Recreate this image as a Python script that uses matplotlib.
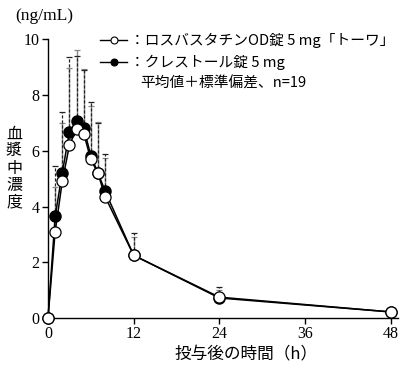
import matplotlib
matplotlib.use("Agg")
import matplotlib.pyplot as plt
from matplotlib.lines import Line2D
import numpy as np

# ---- data ----
time_h = [0, 1, 2, 3, 4, 5, 6, 7, 8, 12, 24, 48]
open_mean = [0, 3.10, 4.90, 6.20, 6.80, 6.62, 5.69, 5.19, 4.35, 2.25, 0.75, 0.22]
open_upper = [0, 4.71, 7.00, 8.96, 9.62, 8.92, 7.60, 7.02, 5.75, 2.90, 1.00, 0.30]
filled_mean = [0, 3.65, 5.21, 6.68, 7.08, 6.83, 5.82, 5.21, 4.55, 2.25, 0.72, 0.22]
filled_upper = [0, 5.46, 7.40, 9.35, 9.40, 8.90, 7.76, 7.00, 5.88, 3.05, 1.10, 0.35]
x_ticks = [0, 12, 24, 36, 48]
y_ticks = [0, 2, 4, 6, 8, 10]

label_open = "：ロスバスタチンOD錠 5 mg「トーワ」"
label_filled = "：クレストール錠 5 mg"
note = "平均値＋標準偏差、n=19"
ylabel_chars = ["血", "漿", "中", "濃", "度"]
xlabel = "投与後の時間（h）"
unit = "(ng/mL)"

jp = ["Noto Sans CJK JP", "DejaVu Sans"]
serif = ["Liberation Serif", "DejaVu Serif"]

fig = plt.figure(figsize=(4.0, 3.69), dpi=100)
ax = fig.add_axes([0.12, 0.138, 0.875, 0.7555])

t = np.array(time_h, dtype=float)
om = np.array(open_mean); ou = np.array(open_upper)
fm = np.array(filled_mean); fu = np.array(filled_upper)

# error bars (upper only)
e1 = ax.errorbar(t, om, yerr=[np.zeros_like(om), ou - om], fmt="none",
                 ecolor="#888888", elinewidth=1.0, capsize=2, capthick=0.9, zorder=1)
e2 = ax.errorbar(t, fm, yerr=[np.zeros_like(fm), fu - fm], fmt="none",
                 ecolor="#222222", elinewidth=0.9, capsize=2, capthick=0.9, zorder=1)
for lc in e2[2]:
    lc.set_linestyle((0, (2.5, 1.5)))

ax.plot(t, fm, "-o", color="black", lw=1.1, markersize=8,
        markerfacecolor="black", markeredgecolor="black", zorder=3, clip_on=False)
ax.plot(t, om, "-o", color="black", lw=1.1, markersize=8,
        markerfacecolor="white", markeredgecolor="black", markeredgewidth=0.9,
        zorder=4, clip_on=False)

ax.set_xlim(0, 49)
ax.set_ylim(0, 10)
ax.set_xticks(x_ticks)
ax.set_yticks(y_ticks)
for s in ["top", "right"]:
    ax.spines[s].set_visible(False)
for s in ["left", "bottom"]:
    ax.spines[s].set_linewidth(1.0)
ax.tick_params(direction="out", length=4, width=1.0, labelsize=11.5, pad=2)
for lab in ax.get_xticklabels() + ax.get_yticklabels():
    lab.set_family(serif)

# texts
fig.text(15 / 400, 1 - 16 / 369, unit, fontsize=12.5, family=serif, va="center", ha="left")
for i, ch in enumerate(ylabel_chars):
    fig.text(14 / 400, 1 - (134 + i * 17) / 369, ch, fontsize=11.5, family=jp,
             va="center", ha="center")
fig.text(246 / 400, 1 - 355 / 369, xlabel, fontsize=12, family=jp, va="center", ha="center")

# legend
leg_y = [1 - 40 / 369, 1 - 62 / 369]
for y, fc, lab in [(leg_y[0], "white", label_open), (leg_y[1], "black", label_filled)]:
    fig.add_artist(Line2D([100 / 400, 127 / 400], [y, y], color="black", lw=1.0,
                          transform=fig.transFigure))
    fig.add_artist(Line2D([113.5 / 400], [y], color="black", marker="o", markersize=5,
                          markerfacecolor=fc, markeredgecolor="black", markeredgewidth=0.8,
                          transform=fig.transFigure))
    fig.text(130 / 400, y, lab, fontsize=10.6, family=jp, va="center", ha="left")
fig.text(140 / 400, 1 - 84 / 369, note, fontsize=10.6, family=jp, va="center", ha="left")

fig.savefig("out.png", dpi=100)
